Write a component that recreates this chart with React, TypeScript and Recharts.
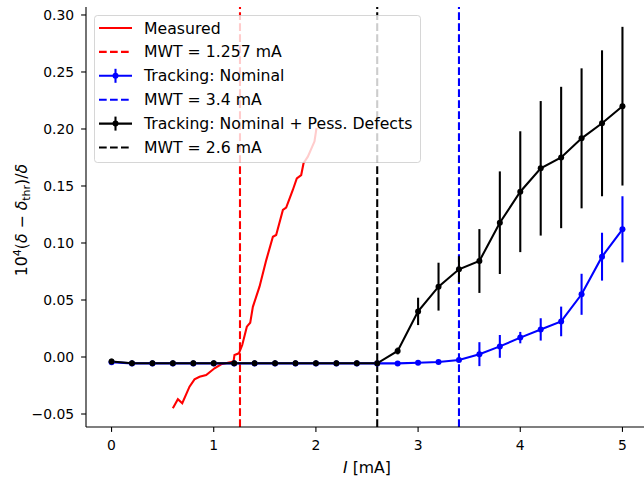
import React from "react";
import { ComposedChart, Line, XAxis, YAxis, ReferenceLine, ErrorBar, Legend } from "recharts";

// beam current [mA], shared by both tracking scans
const currents = [0, 0.2, 0.4, 0.6, 0.8, 1.0, 1.2, 1.4, 1.6, 1.8, 2.0, 2.2, 2.4, 2.6, 2.8, 3.0, 3.2, 3.4, 3.6, 3.8, 4.0, 4.2, 4.4, 4.6, 4.8, 5.0];

const nominalVals = [-0.0045, -0.0056, -0.0056, -0.0056, -0.0056, -0.0056, -0.0056, -0.0056, -0.0056, -0.0056, -0.0056, -0.0056, -0.0056, -0.0056, -0.0056, -0.005, -0.0044, -0.0026, 0.0025, 0.0093, 0.017, 0.0242, 0.0312, 0.055, 0.088, 0.112];
const nominalErr = [0.0015, 0.0015, 0.0015, 0.0015, 0.0015, 0.0015, 0.0015, 0.0015, 0.0015, 0.0015, 0.0015, 0.0015, 0.0015, 0.0015, 0.0015, 0.0015, 0.0015, 0.002, 0.0105, 0.01, 0.005, 0.0098, 0.013, 0.018, 0.021, 0.029];

const defectVals = [-0.004, -0.0055, -0.0055, -0.0055, -0.0055, -0.0055, -0.0055, -0.0055, -0.0055, -0.0055, -0.0055, -0.0055, -0.0055, -0.0055, 0.0053, 0.04, 0.0617, 0.0769, 0.0842, 0.1178, 0.145, 0.1655, 0.175, 0.1918, 0.205, 0.22];
const defectErr = [0.0025, 0.0025, 0.0025, 0.0025, 0.0025, 0.0025, 0.0025, 0.0025, 0.0025, 0.0025, 0.0025, 0.0025, 0.0025, 0.0025, 0.003, 0.012, 0.021, 0.0115, 0.028, 0.045, 0.053, 0.059, 0.062, 0.0614, 0.064, 0.0696];

const measuredI = [0.6, 0.649, 0.692, 0.763, 0.812, 0.861, 0.926, 1.008, 1.073, 1.138, 1.194, 1.203, 1.246, 1.279, 1.324, 1.357, 1.383, 1.448, 1.514, 1.579, 1.611, 1.677, 1.709, 1.774, 1.813, 1.856, 1.879, 1.921, 1.964, 1.986, 2.006];
const measuredVals = [-0.045, -0.037, -0.0406, -0.026, -0.0196, -0.0173, -0.0158, -0.0099, -0.0064, -0.005, -0.004, 0.0018, 0.0032, 0.0105, 0.0266, 0.03, 0.044, 0.0617, 0.085, 0.1055, 0.107, 0.129, 0.131, 0.1465, 0.1567, 0.1596, 0.17, 0.1757, 0.1845, 0.189, 0.201];

const mwtMeasured = 1.257;
const mwtNominal = 3.4;
const mwtDefects = 2.6;

const xTicks = [0, 1, 2, 3, 4, 5];
const yTicks = [-0.05, 0, 0.05, 0.1, 0.15, 0.2, 0.25, 0.3];

const legendLabels = [
  "Measured",
  "MWT = 1.257 mA",
  "Tracking: Nominal",
  "MWT = 3.4 mA",
  "Tracking: Nominal + Pess. Defects",
  "MWT = 2.6 mA",
];
const legendColors = ["#ff0000", "#ff0000", "#0000ff", "#0000ff", "#000000", "#000000"];
const legendKinds = ["line", "dash", "err", "dash", "err", "dash"];

const nominalData = currents.map((x, i) => ({ x, y: nominalVals[i], err: nominalErr[i] }));
const defectData = currents.map((x, i) => ({ x, y: defectVals[i], err: defectErr[i] }));
const measuredData = measuredI.map((x, i) => ({ x, y: measuredVals[i] }));

const FONT = "'DejaVu Sans', sans-serif";
const FS = 13.9; // tick labels
const LFS = 15.7; // axis labels + legend
const LW = 2.08;
const DASH = "7.7 3.3";

const fmtY = (v: number) => (v < 0 ? "\u2212" + Math.abs(v).toFixed(2) : v.toFixed(2));

const XTick = ({ x, y, payload }: any) => (
  <text x={x} y={y + 13} textAnchor="middle" fontSize={FS} fontFamily={FONT} fill="#000">
    {payload.value}
  </text>
);

const YTick = ({ x, y, payload }: any) => (
  <text x={x - 2} y={y + 5} textAnchor="end" fontSize={FS} fontFamily={FONT} fill="#000">
    {fmtY(payload.value)}
  </text>
);

const XLabel = ({ viewBox }: any) => (
  <text x={viewBox.x + viewBox.width / 2} y={473} textAnchor="middle" fontSize={LFS} fontFamily={FONT} fill="#000">
    <tspan fontStyle="italic">I</tspan> [mA]
  </text>
);

const YLabel = () => (
  <text transform="translate(26.5,220) rotate(-90)" textAnchor="middle" fontSize={LFS} fontFamily={FONT} fill="#000">
    10<tspan dy={-6} fontSize={11}>4</tspan>
    <tspan dy={6}>(</tspan>
    <tspan fontStyle="italic">δ</tspan> − <tspan fontStyle="italic">δ</tspan>
    <tspan dy={3.5} fontSize={11}>thr</tspan>
    <tspan dy={-3.5}>)/</tspan>
    <tspan fontStyle="italic">δ</tspan>
  </text>
);

const LegendBox = () => (
  <svg width={327} height={148} style={{ display: "block" }}>
    <rect x={0.5} y={0.5} width={326} height={147} rx={3} fill="rgba(255,255,255,0.8)" stroke="rgba(204,204,204,0.8)" />
    {legendLabels.map((label, i) => {
      const cy = 13 + i * 23.9;
      const c = legendColors[i];
      const k = legendKinds[i];
      return (
        <g key={label}>
          <line x1={5} x2={38} y1={cy} y2={cy} stroke={c} strokeWidth={LW} strokeDasharray={k === "dash" ? DASH : undefined} />
          {k === "err" && (
            <>
              <line x1={21.5} x2={21.5} y1={cy - 7} y2={cy + 7} stroke={c} strokeWidth={LW} />
              <circle cx={21.5} cy={cy} r={3} fill={c} />
            </>
          )}
          <text x={50} y={cy + 5.5} fontSize={LFS} fontFamily={FONT} fill="#000">
            {label}
          </text>
        </g>
      );
    })}
  </svg>
);

export default function App() {
  return (
    <div style={{ position: "fixed", left: 0, top: 0, width: 644, height: 478, overflow: "hidden", background: "#fff" }}>
      <ComposedChart width={660} height={478} margin={{ top: 7, right: 12, left: 0, bottom: 0 }} style={{ fontFamily: FONT }}>
        <XAxis
          dataKey="x"
          type="number"
          domain={[-0.25, 5.25]}
          ticks={xTicks}
          interval={0}
          allowDataOverflow
          height={51}
          tickSize={4.9}
          tickMargin={5}
          tick={<XTick />}
          stroke="#000"
          strokeWidth={1.1}
          label={<XLabel />}
        />
        <XAxis xAxisId="top" orientation="top" type="number" domain={[-0.25, 5.25]} height={0} tick={false} tickLine={false} stroke="#000" strokeWidth={1.1} />
        <YAxis
          type="number"
          domain={[-0.0614, 0.307]}
          ticks={yTicks}
          interval={0}
          allowDataOverflow
          width={86}
          tickSize={4.9}
          tickMargin={5}
          tick={<YTick />}
          stroke="#000"
          strokeWidth={1.1}
          label={<YLabel />}
        />
        <Line data={measuredData} dataKey="y" type="linear" stroke="#ff0000" strokeWidth={LW} dot={false} isAnimationActive={false} />
        <ReferenceLine x={mwtMeasured} stroke="#ff0000" strokeWidth={LW} strokeDasharray={DASH} />
        <Line
          data={nominalData}
          dataKey="y"
          type="linear"
          stroke="#0000ff"
          strokeWidth={LW}
          dot={{ r: 3, fill: "#0000ff", stroke: "#0000ff", strokeWidth: 0 }}
          isAnimationActive={false}
        >
          <ErrorBar dataKey="err" direction="y" width={0} stroke="#0000ff" strokeWidth={LW} isAnimationActive={false} />
        </Line>
        <ReferenceLine x={mwtNominal} stroke="#0000ff" strokeWidth={LW} strokeDasharray={DASH} />
        <Line
          data={defectData}
          dataKey="y"
          type="linear"
          stroke="#000000"
          strokeWidth={LW}
          dot={{ r: 3, fill: "#000000", stroke: "#000000", strokeWidth: 0 }}
          isAnimationActive={false}
        >
          <ErrorBar dataKey="err" direction="y" width={0} stroke="#000000" strokeWidth={LW} isAnimationActive={false} />
        </Line>
        <ReferenceLine x={mwtDefects} stroke="#000000" strokeWidth={LW} strokeDasharray={DASH} />
        <Legend
          layout="vertical"
          align="center"
          verticalAlign="middle"
          content={<LegendBox />}
          wrapperStyle={{ left: 94, top: 15, width: 327, height: 148 }}
        />
      </ComposedChart>
    </div>
  );
}
